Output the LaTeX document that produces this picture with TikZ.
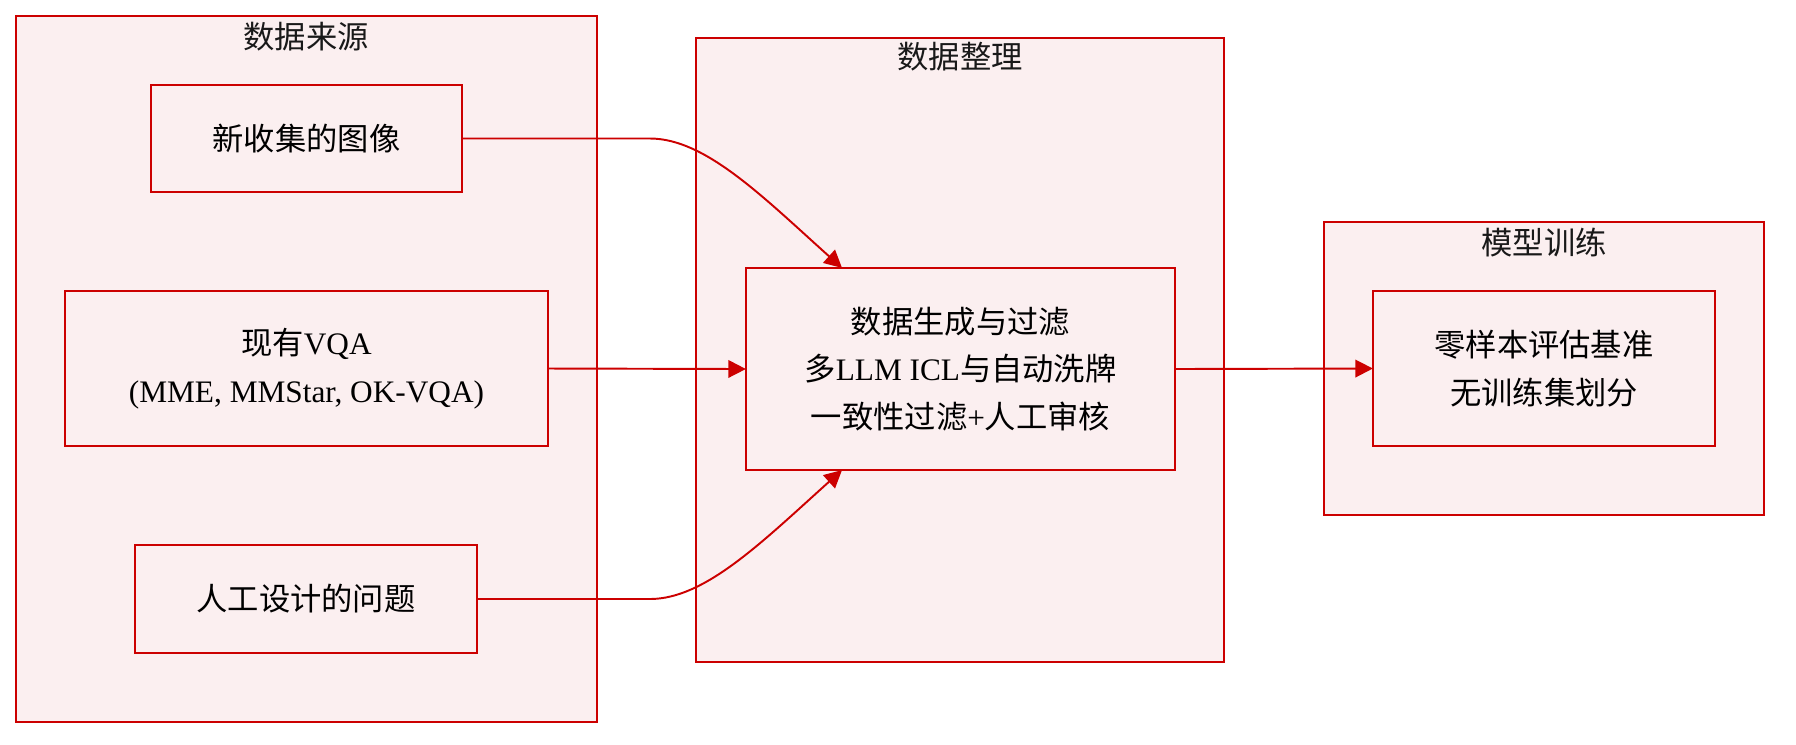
\documentclass[tikz,border=0pt]{standalone}
\usepackage{fontspec}
\setmainfont{Liberation Serif}
\newfontfamily\cjk{Noto Sans CJK SC}
\usetikzlibrary{arrows.meta,calc}
\definecolor{edgered}{RGB}{204,0,0}
\definecolor{clfill}{RGB}{251,239,240}
\begin{document}
\begin{tikzpicture}[x=0.01cm,y=-0.01cm,
  every node/.style={font=\fontsize{8.9}{13.5}\selectfont},
  cluster/.style={draw=edgered,fill=clfill,line width=0.55pt,rectangle,inner sep=0pt,outer sep=0pt},
  box/.style={draw=edgered,fill=clfill,line width=0.55pt,rectangle,inner sep=0pt,outer sep=0pt,align=center},
  title/.style={inner sep=0pt,text=black!90},
  flow/.style={draw=edgered,line width=0.55pt,-{Triangle[length=5pt,width=5pt]}}]
\useasboundingbox (0,0) rectangle (1796,744);
% clusters
\node[cluster,minimum width=5.81cm,minimum height=7.06cm] (L) at (306.5,369) {};
\node[cluster,minimum width=5.28cm,minimum height=6.24cm] (M) at (960,350) {};
\node[cluster,minimum width=4.40cm,minimum height=2.93cm] (R) at (1544,368.5) {};
\node[title] (Lt) at (306,37) {\cjk 数据来源};
\node[title] (Mt) at (960,57) {\cjk 数据整理};
\node[title] (Rt) at (1544,243) {\cjk 模型训练};
% boxes
\node[box,minimum width=3.11cm,minimum height=1.07cm] (A) at (306.5,138.5) {\cjk 新收集的图像};
\node[box,minimum width=4.83cm,minimum height=1.55cm] (B) at (306.5,368.5) {{\cjk 现有}VQA\\(MME, MMStar, OK-VQA)};
\node[box,minimum width=3.42cm,minimum height=1.08cm] (C) at (306,599) {\cjk 人工设计的问题};
\node[box,minimum width=4.29cm,minimum height=2.02cm] (D) at (960.5,369) {{\cjk 数据生成与过滤}\\{\cjk 多}LLM ICL{\cjk 与自动洗牌}\\{\cjk 一致性过滤}+{\cjk 人工审核}};
\node[box,minimum width=3.42cm,minimum height=1.55cm] (E) at (1544,368.5) {{\cjk 零样本评估基准}\\{\cjk 无训练集划分}};
% connectors
\coordinate (Dtop) at ($(D.north west)!0.224!(D.north east)$);
\coordinate (Dbot) at ($(D.south west)!0.224!(D.south east)$);
\draw[flow] (A.east) -- (650,138.5) .. controls (705,138.5) and (762,196) .. (Dtop);
\draw[flow] (C.east) -- (650,599) .. controls (705,599) and (762,542) .. (Dbot);
\draw[flow] (B.east) -- (D.west);
\draw[flow] (D.east) -- (E.west);
\end{tikzpicture}
\end{document}
